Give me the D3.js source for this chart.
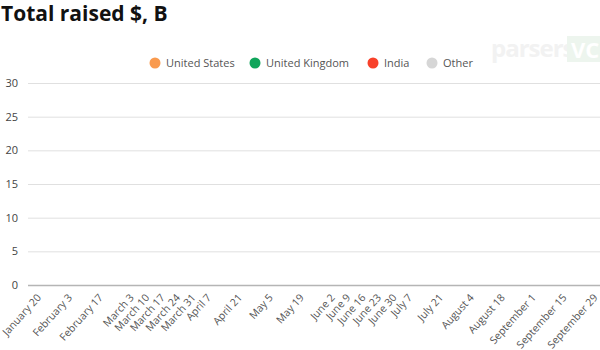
<!DOCTYPE html>
<html>
<head>
<meta charset="utf-8">
<script src="https://cdn.jsdelivr.net/npm/d3@7/dist/d3.min.js"></script>
<style>
  html, body { margin: 0; padding: 0; background: #fff; }
  svg { display: block; font-family: "Open Sans", sans-serif; }
</style>
</head>
<body>
<svg id="chart" width="600" height="350"></svg>
<script>
// Weekly periods (week starting dates, 2020)
const weeks = [
  "2020-01-20","2020-01-27","2020-02-03","2020-02-10","2020-02-17","2020-02-24",
  "2020-03-02","2020-03-09","2020-03-16","2020-03-23","2020-03-30","2020-04-06",
  "2020-04-13","2020-04-20","2020-04-27","2020-05-04","2020-05-11","2020-05-18",
  "2020-05-25","2020-06-01","2020-06-08","2020-06-15","2020-06-22","2020-06-29",
  "2020-07-06","2020-07-13","2020-07-20","2020-07-27","2020-08-03","2020-08-10",
  "2020-08-17","2020-08-24","2020-08-31","2020-09-07","2020-09-14","2020-09-21",
  "2020-09-28"
];

// Week labels shown on the axis
const tickLabels = [
  ["2020-01-20","January 20"],["2020-02-03","February 3"],["2020-02-17","February 17"],
  ["2020-03-02","March 3"],["2020-03-09","March 10"],["2020-03-16","March 17"],
  ["2020-03-23","March 24"],["2020-03-30","March 31"],["2020-04-06","April 7"],
  ["2020-04-20","April 21"],["2020-05-04","May 5"],["2020-05-18","May 19"],
  ["2020-06-01","June 2"],["2020-06-08","June 9"],["2020-06-15","June 16"],
  ["2020-06-22","June 23"],["2020-06-29","June 30"],["2020-07-06","July 7"],
  ["2020-07-20","July 21"],["2020-08-03","August 4"],["2020-08-17","August 18"],
  ["2020-08-31","September 1"],["2020-09-14","September 15"],["2020-09-28","September 29"]
];

// Amount raised per week, $B, by country group
const unitedStates  = [0,0,0,0,0,0,0,0,0,0,0,0,0,0,0,0,0,0,0,0,0,0,0,0,0,0,0,0,0,0,0,0,0,0,0,0,0];
const unitedKingdom = [0,0,0,0,0,0,0,0,0,0,0,0,0,0,0,0,0,0,0,0,0,0,0,0,0,0,0,0,0,0,0,0,0,0,0,0,0];
const india         = [0,0,0,0,0,0,0,0,0,0,0,0,0,0,0,0,0,0,0,0,0,0,0,0,0,0,0,0,0,0,0,0,0,0,0,0,0];
const other         = [0,0,0,0,0,0,0,0,0,0,0,0,0,0,0,0,0,0,0,0,0,0,0,0,0,0,0,0,0,0,0,0,0,0,0,0,0];

const seriesNames = ["United States", "United Kingdom", "India", "Other"];
const yTicks = [0, 5, 10, 15, 20, 25, 30];

const colors = ["#f99a4e", "#10a55b", "#f8412a", "#d6d6d6"];

const svg = d3.select("#chart");
const W = 600, H = 350;
const margin = { top: 83, right: 0, bottom: 65, left: 28 };

const table = weeks.map((w, i) => ({
  week: w,
  "United States": unitedStates[i],
  "United Kingdom": unitedKingdom[i],
  "India": india[i],
  "Other": other[i]
}));

const x = d3.scaleBand()
  .domain(weeks)
  .range([margin.left, W - margin.right])
  .paddingInner(0.2).paddingOuter(0.1);

const y = d3.scaleLinear()
  .domain([0, 30])
  .range([H - margin.bottom, margin.top]);

// Title
svg.append("text")
  .attr("x", 1).attr("y", 21)
  .attr("font-size", 21).attr("font-weight", 700)
  .attr("fill", "#111")
  .text("Total raised $, B");

// Watermark
const wm = svg.append("g").attr("opacity", 0.5);
wm.append("text")
  .attr("x", 491).attr("y", 57)
  .attr("font-size", 24).attr("font-weight", 700)
  .attr("letter-spacing", -1)
  .attr("fill", "#e6e6e6")
  .text("parsers");
wm.append("rect")
  .attr("x", 567).attr("y", 36).attr("width", 40).attr("height", 26)
  .attr("fill", "#dcedde");
wm.append("text")
  .attr("x", 571).attr("y", 58)
  .attr("font-size", 22).attr("font-weight", 700)
  .attr("fill", "#fff")
  .text("VC");

// Grid lines and y axis
const yAxis = svg.append("g")
  .attr("transform", `translate(${margin.left},0)`)
  .call(d3.axisLeft(y).tickValues(yTicks).tickSize(-(W - margin.left)).tickPadding(10));
yAxis.select(".domain").remove();
yAxis.selectAll(".tick line")
  .attr("stroke", d => d === 0 ? "#b5b5b5" : "#e0e0e0")
  .attr("stroke-width", d => d === 0 ? 1.5 : 1);
yAxis.selectAll(".tick text")
  .attr("font-family", "Open Sans, sans-serif")
  .attr("font-size", 11).attr("fill", "#444");

// Stacked bars
const stack = d3.stack().keys(seriesNames)(table);
svg.append("g").selectAll("g")
  .data(stack).join("g")
  .attr("fill", (d, i) => colors[i])
  .selectAll("rect")
  .data(d => d).join("rect")
  .attr("x", d => x(d.data.week))
  .attr("width", x.bandwidth())
  .attr("y", d => y(d[1]))
  .attr("height", d => y(d[0]) - y(d[1]));

// X axis
const labelMap = new Map(tickLabels);
const xAxis = svg.append("g")
  .attr("transform", `translate(0,${H - margin.bottom})`)
  .call(d3.axisBottom(x)
    .tickValues(tickLabels.map(t => t[0]))
    .tickFormat(d => labelMap.get(d))
    .tickSize(0).tickPadding(0));
xAxis.select(".domain").remove();
xAxis.selectAll(".tick text")
  .attr("font-family", "Open Sans, sans-serif")
  .attr("font-size", 10.5).attr("fill", "#555")
  .attr("text-anchor", "end")
  .attr("dy", 0)
  .attr("transform", "translate(6,13) rotate(-48)");

// Legend
const legendX = [155, 255, 373, 432];
const legend = svg.append("g").selectAll("g")
  .data(seriesNames).join("g")
  .attr("transform", (d, i) => `translate(${legendX[i]},63)`);
legend.append("circle").attr("r", 5.5).attr("fill", (d, i) => colors[i]);
legend.append("text")
  .attr("x", 11).attr("dy", "0.35em")
  .attr("font-size", 11).attr("fill", "#555")
  .text(d => d);
</script>
</body>
</html>
